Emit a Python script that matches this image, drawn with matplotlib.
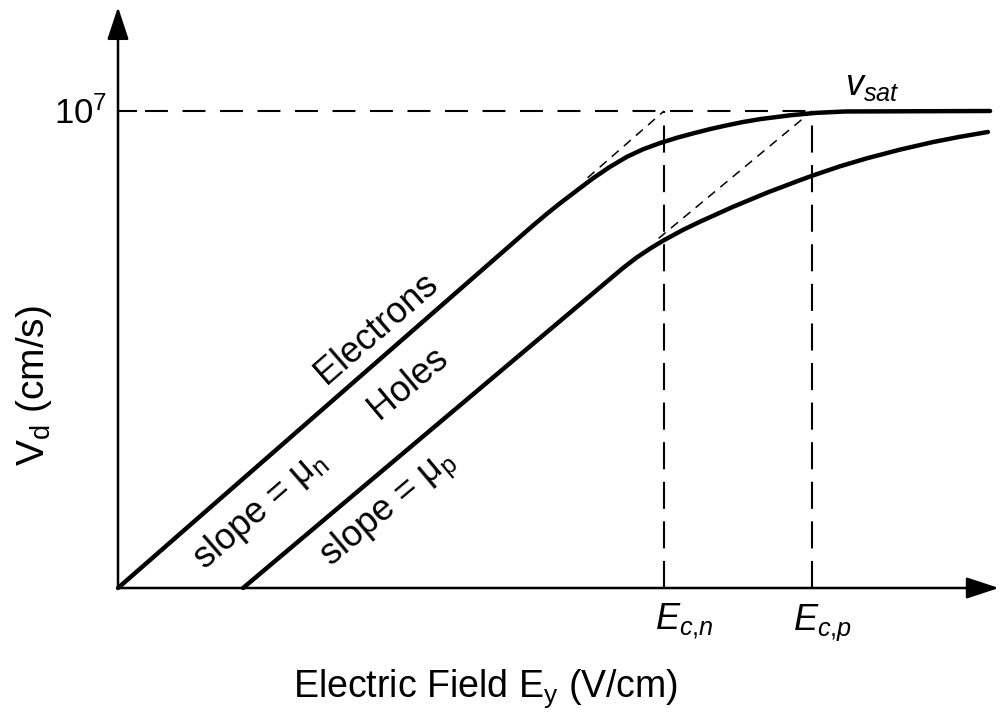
import matplotlib
matplotlib.use('Agg')
import matplotlib.pyplot as plt

# field in units of E_c,n, velocity in units of v_sat (10^7 cm/s)
E_ELECTRON = [0.0, 0.760, 0.786, 0.810, 0.841, 0.870, 0.901, 0.932, 0.962, 0.993,
              1.024, 1.053, 1.084, 1.115, 1.145, 1.176, 1.231, 1.277, 1.332, 1.597]
V_ELECTRON = [0.0, 0.760, 0.785, 0.807, 0.834, 0.859, 0.883, 0.904, 0.920, 0.933,
              0.944, 0.953, 0.962, 0.970, 0.977, 0.983, 0.991, 0.996, 0.999, 1.0]

E_HOLE = [0.229, 0.925, 0.950, 0.975, 0.998, 1.035, 1.066, 1.126, 1.189, 1.249,
          1.273, 1.322, 1.372, 1.432, 1.493, 1.542, 1.593]
V_HOLE = [0.0, 0.671, 0.693, 0.712, 0.728, 0.751, 0.768, 0.799, 0.829, 0.855,
          0.865, 0.884, 0.901, 0.919, 0.935, 0.946, 0.956]

# low field slopes extended up to v_sat
EXT_E_N = [0.86, 1.0]
EXT_V_N = [0.86, 1.0]
EXT_E_P = [0.99, 1.271]
EXT_V_P = [0.733, 1.0]

EC_N = 1.0
EC_P = 1.271
V_SAT = 1.0


def draw_velocity_chart():
    plt.rcParams['font.family'] = ['Liberation Sans', 'DejaVu Sans']
    plt.rcParams['mathtext.fontset'] = 'custom'
    plt.rcParams['mathtext.rm'] = 'Liberation Sans'
    plt.rcParams['mathtext.it'] = 'Liberation Sans:italic'

    fig = plt.figure(figsize=(10.01, 7.16), dpi=100)
    ax = fig.add_axes([118 / 1001, 128 / 716, 883 / 1001, 588 / 716])
    ax.set_xlim(0, 1.617)
    ax.set_ylim(0, 1.2327)
    ax.axis('off')

    # axes with arrow heads
    arrow = dict(arrowstyle='-|>,head_length=1.0,head_width=0.33', lw=1.8,
                 color='black', mutation_scale=20, shrinkA=0, shrinkB=0)
    ax.annotate('', xy=(0, 1.218), xytext=(0, 0), arrowprops=arrow)
    ax.annotate('', xy=(1.613, 0), xytext=(0, 0), arrowprops=arrow)

    # curves
    ax.plot(E_ELECTRON, V_ELECTRON, color='black', lw=3.2, solid_capstyle='round',
            solid_joinstyle='round', clip_on=False)
    ax.plot(E_HOLE, V_HOLE, color='black', lw=3.2, solid_capstyle='round',
            solid_joinstyle='round', clip_on=False)

    # guides
    ax.plot([0, 0.033], [V_SAT, V_SAT], color='black', lw=1.5)
    ax.plot([0.05, EC_P], [V_SAT, V_SAT], color='black', lw=1.5,
            linestyle=(0, (11, 7)))
    ax.plot([EC_N, EC_N], [0, V_SAT], color='black', lw=1.5, linestyle=(0, (13, 6)))
    ax.plot([EC_P, EC_P], [0, V_SAT], color='black', lw=1.5, linestyle=(0, (13, 6)))
    ax.plot(EXT_E_N, EXT_V_N, color='black', lw=1.1, linestyle=(0, (6, 4.5)))
    ax.plot(EXT_E_P, EXT_V_P, color='black', lw=1.1, linestyle=(0, (6, 4.5)))

    # labels
    ax.text(-0.02, 0.9727, '10$^7$', fontsize=25, ha='right', va='baseline')
    ax.text(1.332, 1.0335, '$v_{sat}$', fontsize=26, ha='left', va='baseline')
    ax.text(0.983, -0.088, '$E_{c{,}n}$', fontsize=26, ha='left', va='baseline')
    ax.text(1.236, -0.088, '$E_{c{,}p}$', fontsize=26, ha='left', va='baseline')

    ax.text(0.4725, 0.545, 'Electrons', fontsize=26, rotation=41,
            ha='center', va='center', rotation_mode='anchor')
    ax.text(0.531, 0.430, 'Holes', fontsize=26, rotation=40,
            ha='center', va='center', rotation_mode='anchor')
    ax.text(0.260, 0.165, 'slope = μ$_\\mathregular{n}$', fontsize=26, rotation=41,
            ha='center', va='center', rotation_mode='anchor')
    ax.text(0.496, 0.166, 'slope = μ$_\\mathregular{p}$', fontsize=26, rotation=40,
            ha='center', va='center', rotation_mode='anchor')

    ax.text(0.674, -0.2285, 'Electric Field E$_\\mathregular{y}$ (V/cm)', fontsize=27,
            ha='center', va='baseline')
    fig.text(34 / 1001, 1 - 386 / 716, 'V$_\\mathregular{d}$ (cm/s)', fontsize=28,
             rotation=90, ha='center', va='center')

    plt.savefig('out.png', dpi=100)


if __name__ == "__main__":
    draw_velocity_chart()
